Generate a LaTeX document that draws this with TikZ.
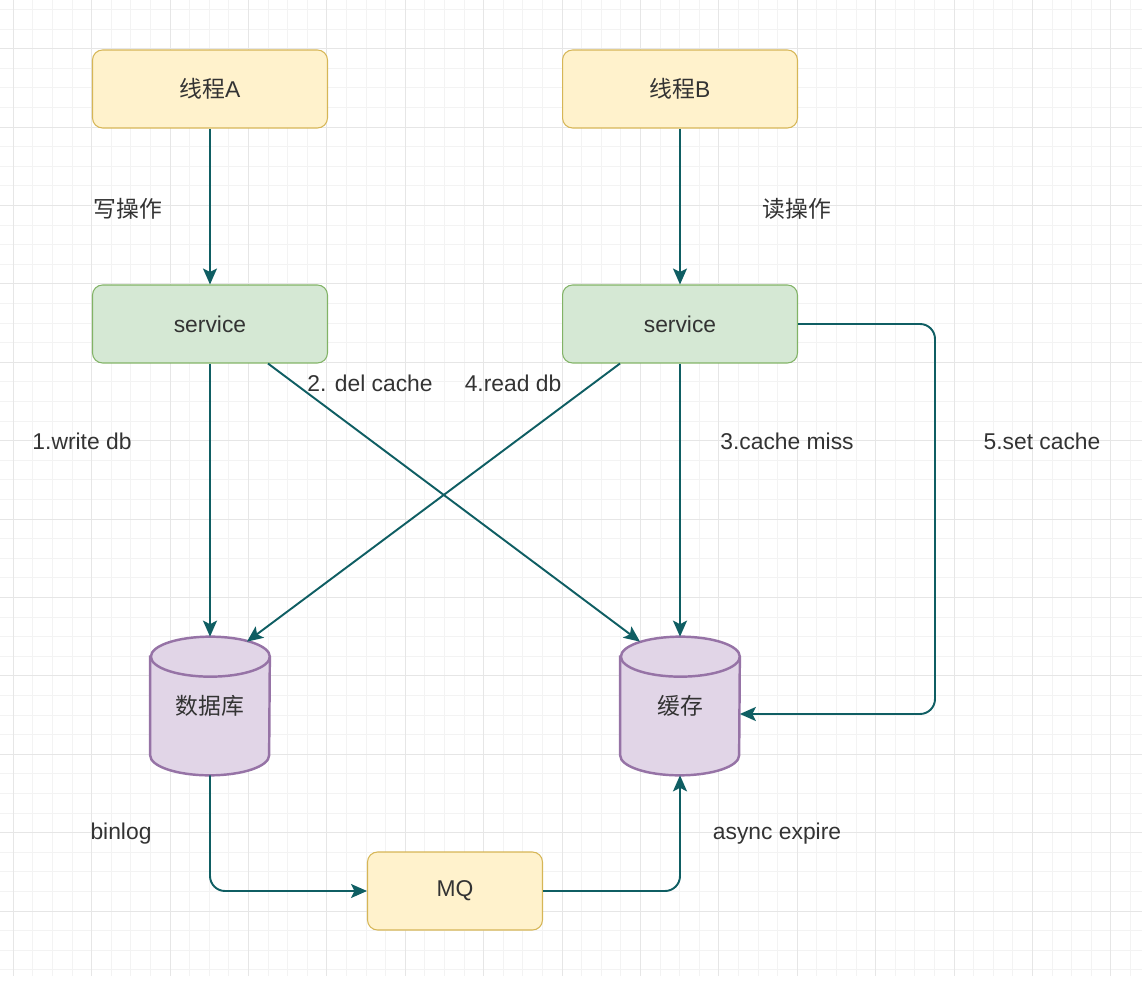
\documentclass[tikz,border=0pt]{standalone}
\usepackage{fontspec}
\setmainfont{Liberation Sans}
\newfontfamily\cjk{Noto Sans CJK SC}
\usetikzlibrary{arrows.meta}
\definecolor{gridminor}{HTML}{F3F3F3}
\definecolor{gridmajor}{HTML}{E6E6E6}
\definecolor{yellowfill}{HTML}{FFF2CC}
\definecolor{yellowline}{HTML}{D6B656}
\definecolor{greenfill}{HTML}{D5E8D4}
\definecolor{greenline}{HTML}{82B366}
\definecolor{purplefill}{HTML}{E1D5E7}
\definecolor{purpleline}{HTML}{9673A6}
\definecolor{flowcol}{HTML}{0F5E63}
\definecolor{textcol}{HTML}{333333}
\tikzset{
    box/.style={rectangle, rounded corners=0.2cm, minimum width=4.7cm, minimum height=1.56cm, line width=0.6pt, font=\fontsize{13}{15}\selectfont, text=textcol},
    threadbox/.style={box, draw=yellowline, fill=yellowfill},
    servicebox/.style={box, draw=greenline, fill=greenfill},
    storebox/.style={rectangle, minimum width=2.38cm, minimum height=2.76cm, inner sep=0pt, font=\fontsize{13}{15}\selectfont\cjk, text=textcol},
    storeline/.style={draw=purpleline, fill=purplefill, line width=1.4pt},
    flow/.style={draw=flowcol, line width=1.1pt, -{Stealth[length=0.32cm, width=0.28cm, inset=0.07cm]}},
    lbl/.style={font=\fontsize{13}{15}\selectfont, text=textcol, inner sep=0pt},
}
\newcommand{\storeshape}[1]{%
    \path[storeline] ([yshift=-0.4cm]#1.north west) -- ([yshift=0.4cm]#1.south west)
        arc[start angle=180, end angle=360, x radius=1.19cm, y radius=0.4cm]
        -- ([yshift=-0.4cm]#1.north east)
        arc[start angle=0, end angle=180, x radius=1.19cm, y radius=0.4cm] -- cycle;
    \draw[storeline, fill=none] ([yshift=-0.4cm]#1.north east)
        arc[start angle=0, end angle=-180, x radius=1.19cm, y radius=0.4cm];
}
\begin{document}
\begin{tikzpicture}[x=0.02cm, y=-0.02cm]
            \useasboundingbox (0, 0) rectangle (1142, 982);
            % grid
            \begin{scope}
                \clip (0, 0) rectangle (1142, 976);
                \foreach \k in {0,...,15} \foreach \m in {1,2,3} \draw[gridminor, line width=0.5pt] (-65.1+\k*78.4+\m*19.6, 0) -- ++(0, 976);
                \foreach \k in {0,...,13} \foreach \m in {1,2,3} \draw[gridminor, line width=0.5pt] (0, -29.7+\k*78.4+\m*19.6) -- ++(1142, 0);
                \foreach \i in {0,...,14} \draw[gridmajor, line width=0.6pt] (13.3+\i*78.4, 0) -- ++(0, 976);
                \foreach \i in {0,...,12} \draw[gridmajor, line width=0.6pt] (0, 48.7+\i*78.4) -- ++(1142, 0);
            \end{scope}
            % nodes
            \node[threadbox] (ta) at (210, 89) {{\cjk 线程}A};
            \node[threadbox] (tb) at (680, 89) {{\cjk 线程}B};
            \node[servicebox] (sa) at (210, 324) {service};
            \node[servicebox] (sb) at (680, 324) {service};
            \node[storebox] (db) at (210, 706) {};
            \node[storebox] (cache) at (680, 706) {};
            \storeshape{db}
            \storeshape{cache}
            \node[storebox] at (db) {数据库};
            \node[storebox] at (cache) {缓存};
            \node[threadbox, minimum width=3.5cm] (mq) at (455, 891) {MQ};
            % connectors
            \draw[flow] (ta) -- (sa);
            \draw[flow] (tb) -- (sb);
            \draw[flow] (sa.south) -- (db.north);
            \draw[flow] ([xshift=1.16cm]sa.south) -- ([xshift=-0.8cm, yshift=-0.1cm]cache.north);
            \draw[flow] ([xshift=-1.2cm]sb.south) -- ([xshift=0.74cm, yshift=-0.1cm]db.north);
            \draw[flow] (sb.south) -- (cache.north);
            \draw[flow, rounded corners=0.3cm] (sb.east) -- (935, 324) |- ([yshift=-0.16cm]cache.east);
            \draw[flow, rounded corners=0.3cm] (db.south) |- (mq.west);
            \draw[flow, rounded corners=0.3cm] (mq.east) -| (cache.south);
            % labels
            \node[lbl, font=\fontsize{13}{15}\selectfont\cjk] (l1) at (128, 209) {写操作};
            \node[lbl, font=\fontsize{13}{15}\selectfont\cjk] (l2) at (797, 209) {读操作};
            \node[lbl] (l3) at (82, 441) {1.write db};
            \node[lbl] (l4) at (370, 383) {2. del cache};
            \node[lbl] (l5) at (513, 383) {4.read db};
            \node[lbl] (l6) at (787, 441) {3.cache miss};
            \node[lbl] (l7) at (1042, 441) {5.set cache};
            \node[lbl] (l8) at (121, 834) {binlog};
            \node[lbl] (l9) at (777, 834) {async expire};
        \end{tikzpicture}
\end{document}
